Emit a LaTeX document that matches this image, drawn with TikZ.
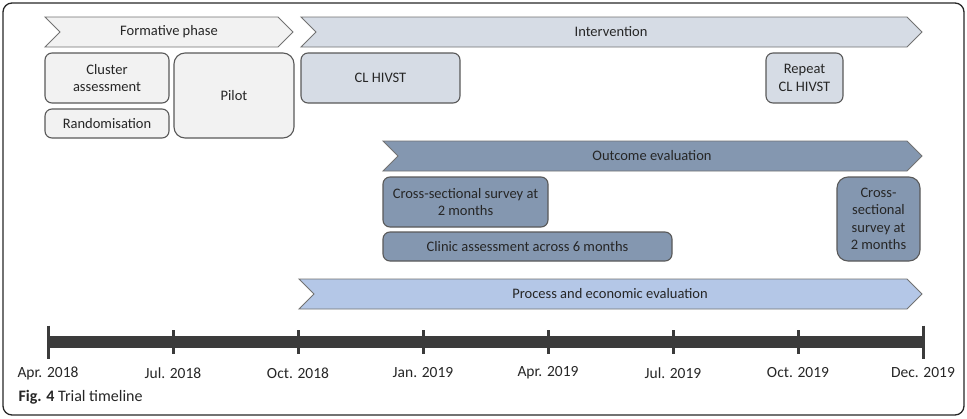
\documentclass[tikz,border=0pt]{standalone}
\usepackage{fontspec}
\setmainfont{Carlito}
\usetikzlibrary{positioning}
\definecolor{formfill}{HTML}{F2F2F2}
\definecolor{intfill}{HTML}{D6DCE5}
\definecolor{outfill}{HTML}{8497B0}
\definecolor{procfill}{HTML}{B4C7E7}
\definecolor{edgegray}{HTML}{595959}
\definecolor{barcol}{HTML}{3B3B3B}
\definecolor{txt}{HTML}{262626}

\begin{document}
\begin{tikzpicture}[x=1pt,y=-1pt, every node/.style={font=\fontsize{14.5}{17.5}\selectfont, text=txt},
  phase/.style={draw=edgegray!85, line width=0.9pt, line join=miter},
  box/.style={draw=edgegray, line width=1.1pt, rounded corners=7pt, align=center, inner sep=0pt},
  tallbox/.style={box, rounded corners=11pt},
  datelbl/.style={font=\fontsize{15.5}{18}\selectfont}]

\useasboundingbox (0,0) rectangle (967,418);
\draw[black!85, line width=1.3pt, rounded corners=9pt] (3,3) rectangle (964,415);

% phase chevrons
\draw[phase, fill=formfill] (45,17) -- (278,17) -- (293,32) -- (278,47) -- (45,47) -- (60,32) -- cycle;
\node (formative) at (169,32) {Formative phase};
\draw[phase, fill=intfill] (301,17) -- (907,17) -- (922,32) -- (907,47) -- (301,47) -- (316,32) -- cycle;
\node (intervention) at (611,32) {Intervention};
\draw[phase, fill=outfill] (383,141) -- (907,141) -- (922,156) -- (907,171) -- (383,171) -- (398,156) -- cycle;
\node (outcome) at (652,156) {Outcome evaluation};
\draw[phase, fill=procfill] (299,279) -- (907,279) -- (922,294) -- (907,309) -- (299,309) -- (314,294) -- cycle;
\node (process) at (610,294) {Process and economic evaluation};

% formative boxes
\node[box, fill=formfill, minimum width=124pt, minimum height=50pt] (cluster) at (107,78) {Cluster\\assessment};
\node[box, fill=formfill, minimum width=124pt, minimum height=29pt] (random) at (107,123.5) {Randomisation};
\node[tallbox, fill=formfill, minimum width=120pt, minimum height=85pt] (pilot) at (234,95.5) {Pilot};

% intervention boxes
\node[box, fill=intfill, minimum width=159pt, minimum height=50pt] (clhivst) at (380.5,78) {CL HIVST};
\node[box, fill=intfill, minimum width=77pt, minimum height=50pt] (repeat) at (804.5,78) {Repeat\\CL HIVST};

% outcome boxes
\node[box, fill=outfill, minimum width=165pt, minimum height=50pt] (survey) at (465.5,202) {Cross-sectional survey at\\2 months};
\node[box, fill=outfill, minimum width=289pt, minimum height=29pt] (clinic) at (527.5,246.5) {Clinic assessment across 6 months};
\node[tallbox, fill=outfill, minimum width=83pt, minimum height=84pt] (survey2) at (878.5,219) {Cross-\\sectional\\survey at\\2 months};

% timeline
\foreach \i/\lbl in {0/Apr. 2018, 1/Jul. 2018, 2/Oct. 2018, 3/Jan. 2019, 4/Apr. 2019, 5/Jul. 2019, 6/Oct. 2019, 7/Dec. 2019}{
  \coordinate (t\i) at (48+125*\i,342);
  \node[datelbl] (d\i) at (48+125*\i,373) {\lbl};
}
\draw[barcol, line width=12pt] (t0) -- (t7);
\foreach \i in {1,...,6}
  \draw[barcol, line width=3pt] ([yshift=12pt]t\i) -- ([yshift=-12pt]t\i);
\draw[barcol, line width=3pt] ([yshift=16.5pt]t0) -- ([yshift=-16.5pt]t0);
\draw[barcol, line width=3pt] ([yshift=16.5pt]t7) -- ([yshift=-16.5pt]t7);

\node[anchor=west, font=\fontsize{16}{19}\selectfont] (caption) at (15,397) {\textbf{Fig. 4} Trial timeline};
\end{tikzpicture}
\end{document}
